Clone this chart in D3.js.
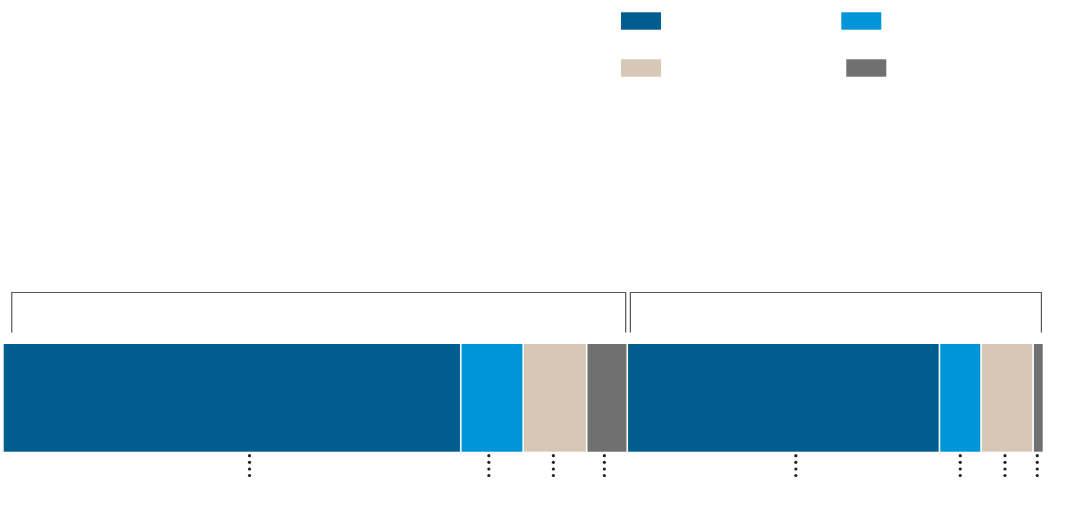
<!DOCTYPE html>
<html>
<head>
<meta charset="utf-8">
<script src="https://cdn.jsdelivr.net/npm/d3@7"></script>
<style>
  html, body { margin: 0; padding: 0; background: #ffffff; }
  svg { display: block; }
</style>
</head>
<body>
<svg id="chart" width="1092" height="528"></svg>
<script>
// ---- data (shares of a 100% whole) ----
const groups = ["g1", "g2"];
const seriesKeys = ["s1", "s2", "s3", "s4"];
const colors = ["#005d8f", "#0094d8", "#d7c8b5", "#707070"];
const group1Values = [44.0, 6.0, 6.1, 3.9];
const group2Values = [30.0, 4.0, 5.0, 1.0];
// positions (in data units) of the dotted leader marks under each segment
const group1LeaderPos = [23.7, 46.7, 52.9, 57.8];
const group2LeaderPos = [76.2, 92.0, 96.3, 99.4];
// bracket extents (in data units) over each group
const bracketExtents = [[0.85, 59.85], [60.3, 99.8]];

const svg = d3.select("#chart");
const total = d3.sum(group1Values) + d3.sum(group2Values);
const x = d3.scaleLinear().domain([0, total]).range([2.9, 1043.5]);
const barTop = 344, barBottom = 451.7;

// build segments
const segs = [];
let acc = 0;
[group1Values, group2Values].forEach((vals, gi) => {
  vals.forEach((v, si) => {
    segs.push({ g: groups[gi], key: seriesKeys[si], x0: acc, x1: acc + v, color: colors[si] });
    acc += v;
  });
});

svg.append("g").selectAll("rect").data(segs).join("rect")
  .attr("x", d => x(d.x0) + 0.8)
  .attr("y", barTop)
  .attr("width", d => x(d.x1) - x(d.x0) - 1.6)
  .attr("height", barBottom - barTop)
  .attr("fill", d => d.color);

// brackets
svg.append("g").selectAll("path").data(bracketExtents).join("path")
  .attr("d", d => `M${x(d[0])},332.5 V292.5 H${x(d[1])} V332.5`)
  .attr("fill", "none")
  .attr("stroke", "#555555")
  .attr("stroke-width", 1.2);

// dotted leaders
const leaders = group1LeaderPos.concat(group2LeaderPos);
const dotYs = [455.7, 462.3, 469, 475.5];
const lg = svg.append("g");
leaders.forEach(p => {
  lg.selectAll(null).data(dotYs).join("circle")
    .attr("cx", x(p))
    .attr("cy", d => d)
    .attr("r", 1.6)
    .attr("fill", "#222222");
});

// legend swatches (2x2)
const legendPos = [[621, 12.3], [841.3, 12.3], [621, 59.3], [846.3, 59.3]];
svg.append("g").selectAll("rect").data(seriesKeys).join("rect")
  .attr("x", (d, i) => legendPos[i][0])
  .attr("y", (d, i) => legendPos[i][1])
  .attr("width", 40)
  .attr("height", 17.4)
  .attr("fill", (d, i) => colors[i]);
</script>
</body>
</html>
